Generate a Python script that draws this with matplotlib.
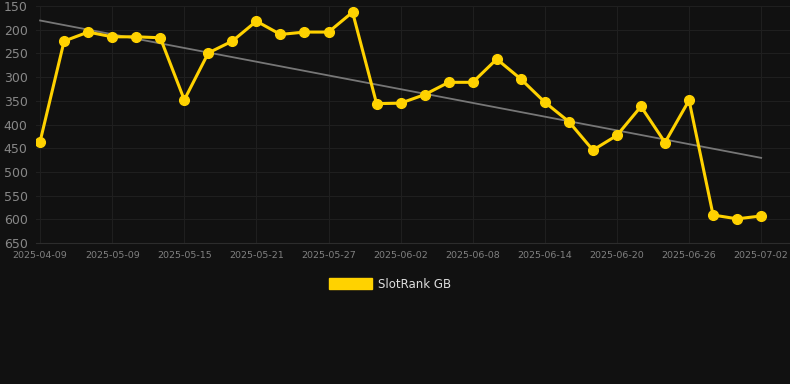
import matplotlib
matplotlib.use("Agg")
import matplotlib.pyplot as plt
import matplotlib.patches as mpatches
import numpy as np


# ---------------------------------------------------
# DATA
# ---------------------------------------------------

dates = [
    "2025-04-09", "2025-04-19", "2025-04-29", "2025-05-09", "2025-05-11",
    "2025-05-13", "2025-05-15", "2025-05-17", "2025-05-19", "2025-05-21",
    "2025-05-23", "2025-05-25", "2025-05-27", "2025-05-29", "2025-05-31",
    "2025-06-02", "2025-06-04", "2025-06-06", "2025-06-08", "2025-06-10",
    "2025-06-12", "2025-06-14", "2025-06-16", "2025-06-18", "2025-06-20",
    "2025-06-22", "2025-06-24", "2025-06-26", "2025-06-28", "2025-06-30",
    "2025-07-02",
]

rank = [
    436, 224, 205, 215, 215, 217, 348, 249, 224, 182,
    210, 205, 205, 163, 356, 355, 337, 311, 311, 262,
    304, 353, 394, 454, 423, 362, 438, 349, 591, 599,
    593,
]

y_ticks = [150, 200, 250, 300, 350, 400, 450, 500, 550, 600, 650]


# ---------------------------------------------------
# PLOT
# ---------------------------------------------------

bg = "#111111"
gold = "#ffd200"

fig = plt.figure(figsize=(7.9, 3.84), dpi=100, facecolor=bg)
ax = fig.add_axes([36 / 790, 1 - 243 / 384, 1 - 36 / 790, 237 / 384])
ax.set_facecolor(bg)

x = np.arange(len(rank))

# linear trend
coef = np.polyfit(x, rank, 1)
ax.plot(x, np.polyval(coef, x), color="#777777", linewidth=1.3, zorder=2)

ax.plot(
    x,
    rank,
    color=gold,
    linewidth=2.2,
    marker="o",
    markersize=7,
    zorder=3
)

ax.set_ylim(650, 150)
ax.set_xlim(-0.17, 31.2)
ax.set_yticks(y_ticks)
ax.set_xticks(x[::3])
ax.set_xticklabels(dates[::3])

ax.grid(color="#1f1f1f", linewidth=0.8)
ax.set_axisbelow(True)

for side in ["top", "right", "left"]:
    ax.spines[side].set_visible(False)
ax.spines["bottom"].set_color("#2c2c2c")

ax.tick_params(axis="y", colors="#888888", labelsize=9, length=0, pad=6)
ax.tick_params(axis="x", colors="#808080", labelsize=6.8, length=0, pad=6)

handle = mpatches.Patch(color=gold, label="SlotRank GB")
leg = fig.legend(
    handles=[handle],
    loc="center",
    bbox_to_anchor=(390 / 790, 1 - 284 / 384),
    frameon=False,
    fontsize=8.5,
    handlelength=3.6,
    handleheight=1.0,
    handletextpad=0.5
)
for t in leg.get_texts():
    t.set_color("#dddddd")

fig.savefig("out.png", dpi=100, facecolor=bg)
